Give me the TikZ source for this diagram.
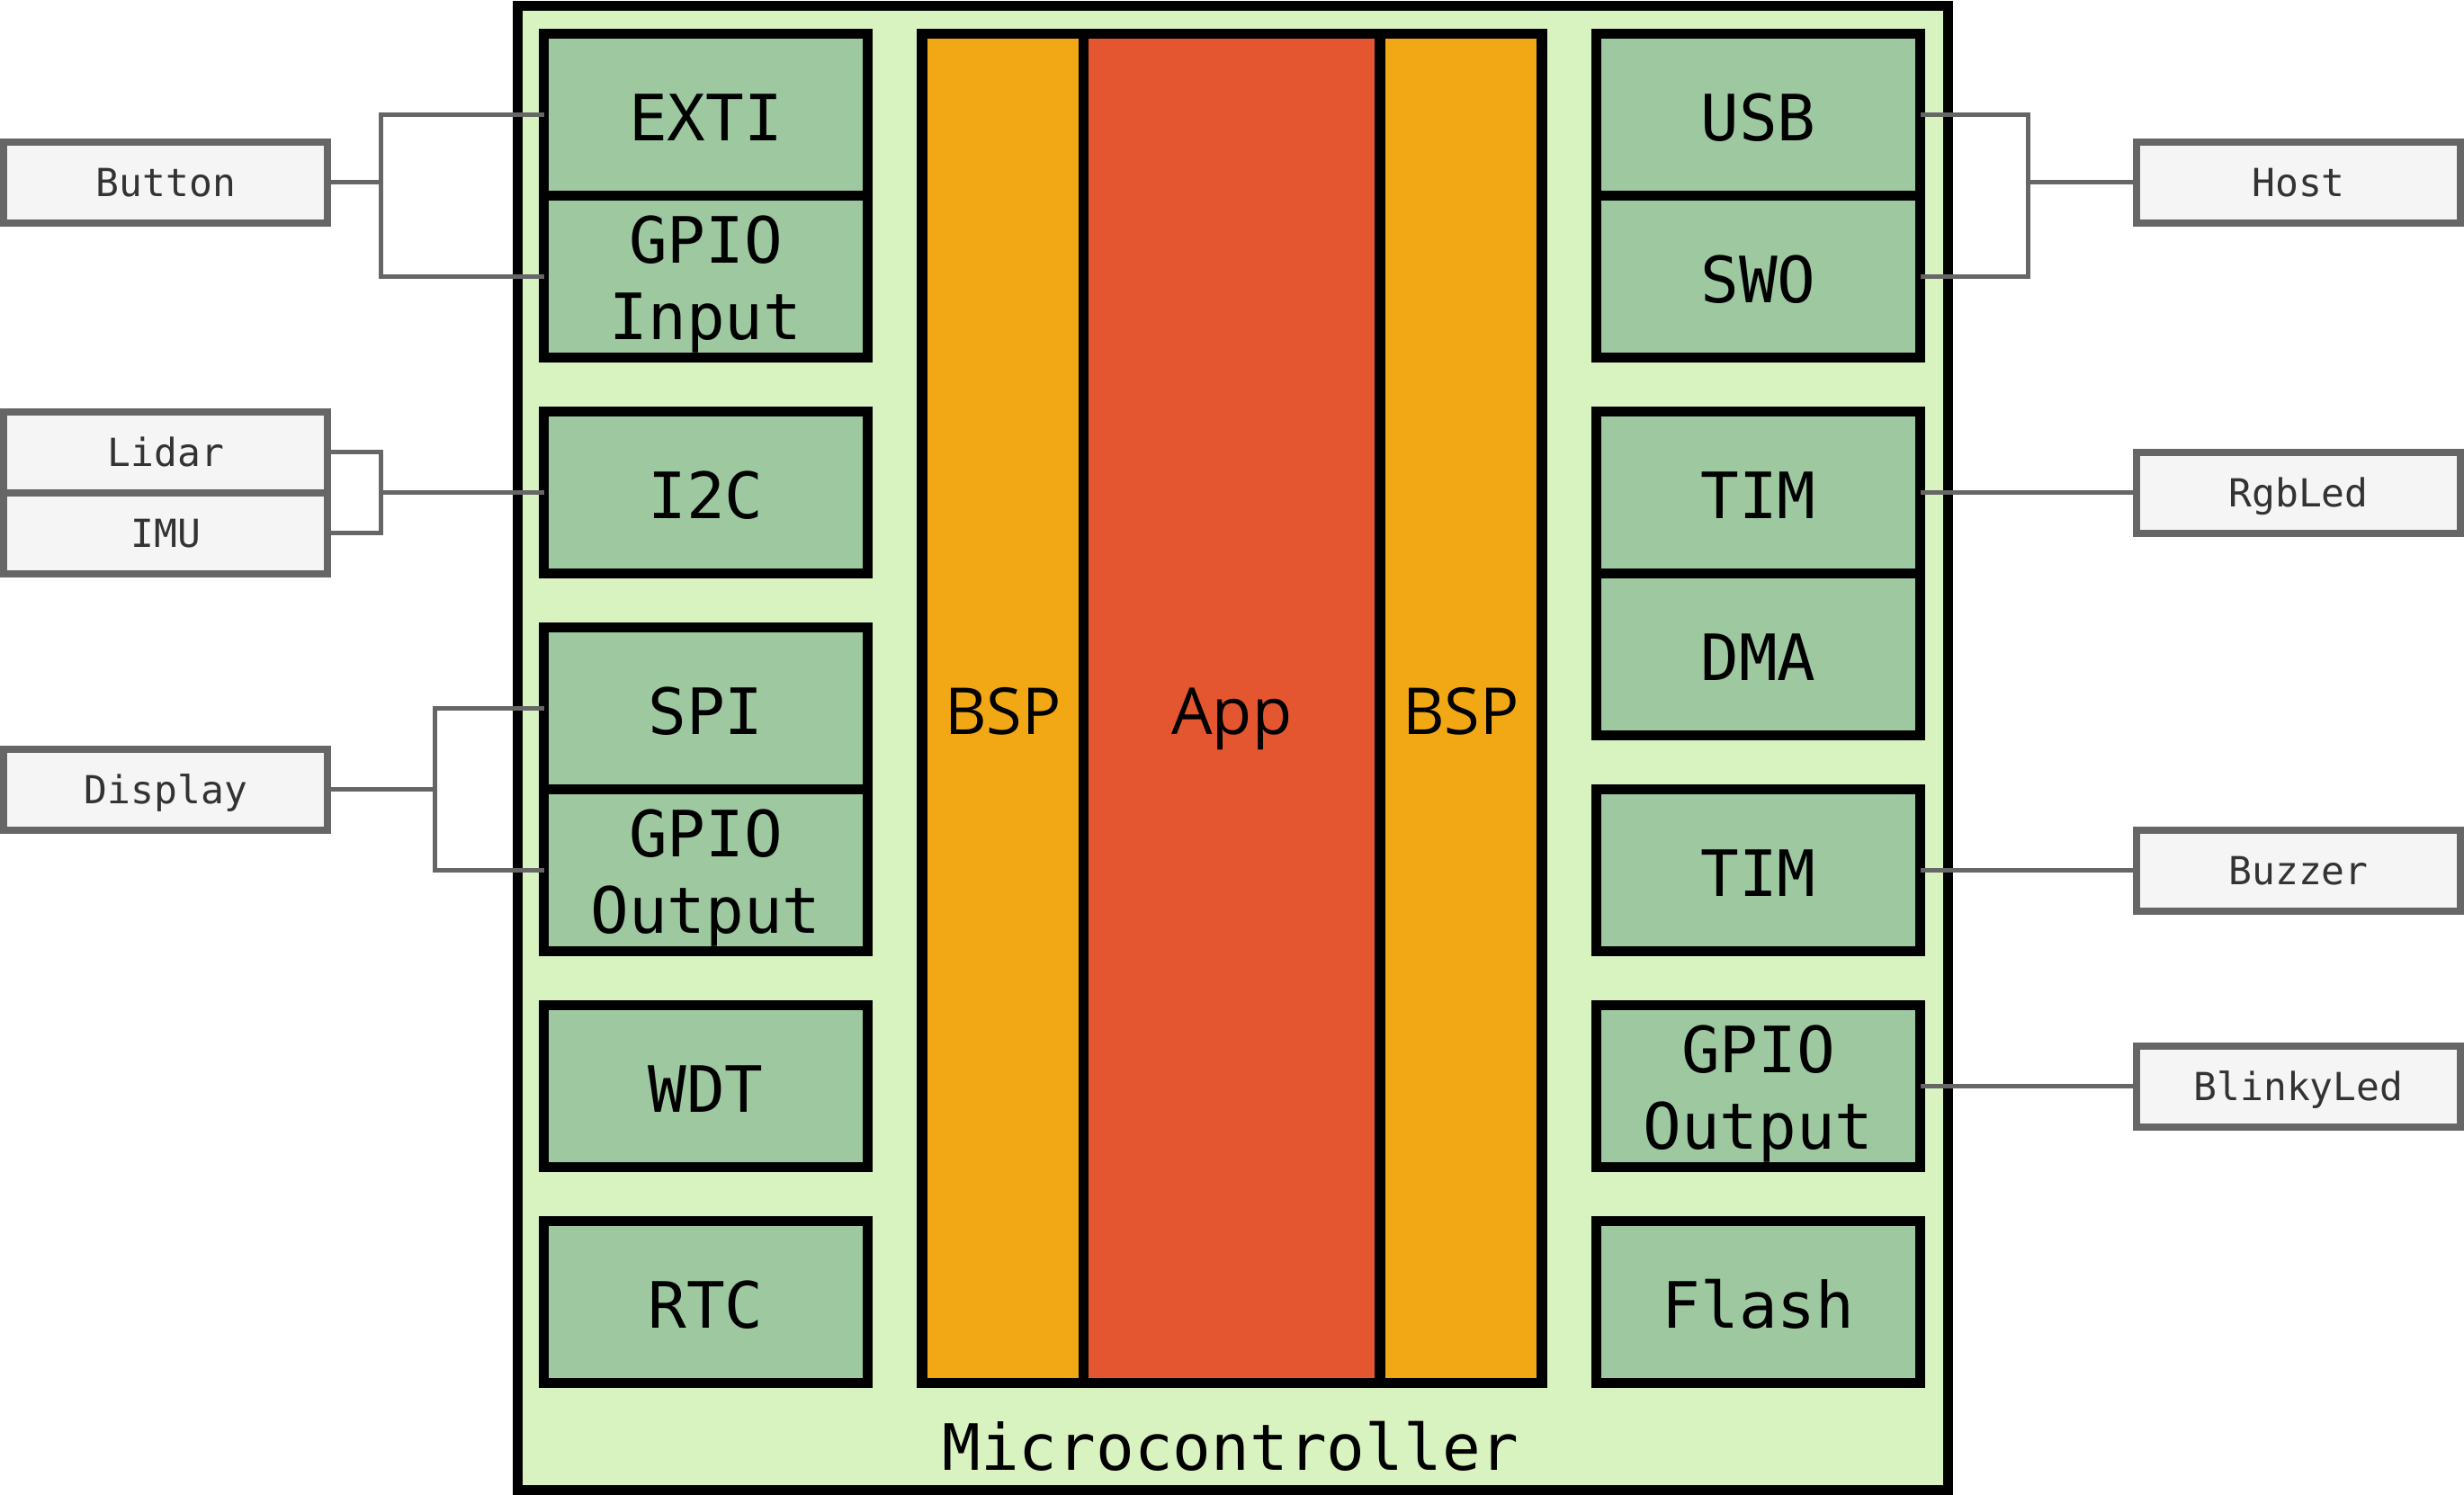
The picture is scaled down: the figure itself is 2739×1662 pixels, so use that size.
\documentclass[tikz,border=0pt]{standalone}
\usepackage{fontspec}
\newfontfamily\monofnt{DejaVu Sans Mono}
\newfontfamily\sansfnt{Open Sans}
\definecolor{mcfill}{HTML}{D8F2C0}
\definecolor{perfill}{HTML}{9DC8A0}
\definecolor{bspfill}{HTML}{F2A814}
\definecolor{appfill}{HTML}{E4562F}
\definecolor{extfill}{HTML}{F5F5F5}
\definecolor{extdraw}{HTML}{666666}
\definecolor{exttext}{HTML}{333333}
\tikzset{
  mcbox/.style={draw=black, line width=11pt, fill=mcfill, minimum width=1590pt, minimum height=1650pt, inner sep=0pt, outer sep=0pt},
  perbox/.style={draw=black, line width=11.5pt, fill=perfill, minimum width=360pt, minimum height=180pt, inner sep=0pt, outer sep=0pt, font=\monofnt\fontsize{71}{85}\selectfont, text height=57pt, text depth=0pt},
  perline/.style={anchor=base, inner sep=0pt, outer sep=0pt, font=\monofnt\fontsize{71}{85}\selectfont},
  layerbox/.style={draw=black, line width=11.5pt, minimum height=1500pt, inner sep=0pt, outer sep=0pt, font=\sansfnt\fontsize{72}{86}\selectfont, text height=57pt, text depth=0pt},
  extbox/.style={draw=extdraw, line width=8pt, fill=extfill, minimum width=360pt, minimum height=90pt, inner sep=0pt, outer sep=0pt, text=exttext, font=\monofnt\fontsize{43}{52}\selectfont, text height=31pt, text depth=0pt},
  wire/.style={draw=extdraw, line width=5pt},
}
\begin{document}
\begin{tikzpicture}[x=1pt, y=-1pt]
\useasboundingbox (0,0) rectangle (2739,1662);
\fill[white] (0,0) rectangle (2739,1662);

% microcontroller
\node[mcbox] (mcu) at (1370.5,831.75) {};
\node[perline] (mclabel) at (1368,1634) {Microcontroller};

% layers
\node[layerbox, fill=bspfill, minimum width=179.5pt] (bspl) at (1114.75,787.5) {BSP};
\node[layerbox, fill=appfill, minimum width=329.5pt] (app) at (1369.25,787.5) {App};
\node[layerbox, fill=bspfill, minimum width=180pt] (bspr) at (1624,787.5) {BSP};

% left peripherals
\node[perbox] (exti) at (784.5,127.5) {EXTI};
\node[perbox] (gpin) at (784.5,307.5) {};
\node[perline] (gpinA) at ([yshift=15pt]gpin.center) {GPIO};
\node[perline] (gpinB) at ([yshift=-70pt]gpin.center) {Input};
\node[perbox] (i2c) at (784.5,547.5) {I2C};
\node[perbox] (spi) at (784.5,787.5) {SPI};
\node[perbox] (gpout) at (784.5,967.5) {};
\node[perline] (gpoutA) at ([yshift=15pt]gpout.center) {GPIO};
\node[perline] (gpoutB) at ([yshift=-70pt]gpout.center) {Output};
\node[perbox] (wdt) at (784.5,1207.5) {WDT};
\node[perbox] (rtc) at (784.5,1447.5) {RTC};

% right peripherals
\node[perbox] (usb) at (1954.5,127.5) {USB};
\node[perbox] (swo) at (1954.5,307.5) {SWO};
\node[perbox] (tim) at (1954.5,547.5) {TIM};
\node[perbox] (dma) at (1954.5,727.5) {DMA};
\node[perbox] (timb) at (1954.5,967.5) {TIM};
\node[perbox] (gpoutr) at (1954.5,1207.5) {};
\node[perline] (gpoutrA) at ([yshift=15pt]gpoutr.center) {GPIO};
\node[perline] (gpoutrB) at ([yshift=-70pt]gpoutr.center) {Output};
\node[perbox] (flash) at (1954.5,1447.5) {Flash};

% external devices
\node[extbox] (button) at (184.3,202.5) {Button};
\node[extbox] (lidar) at (184.3,502.5) {Lidar};
\node[extbox] (imu) at (184.3,592.5) {IMU};
\node[extbox] (display) at (184.3,877.5) {Display};
\node[extbox] (host) at (2555,202.5) {Host};
\node[extbox] (rgbled) at (2555,547.5) {RgbLed};
\node[extbox] (buzzer) at (2555,967.5) {Buzzer};
\node[extbox] (blinky) at (2555,1207.5) {BlinkyLed};

% connectors
\coordinate (bkA) at (423.5,0);
\coordinate (bkB) at (423,0);
\coordinate (bkC) at (483,0);
\coordinate (bkD) at (2254,0);
\draw[wire] (exti.west) -- (exti.west -| bkA) |- (gpin.west);
\draw[wire] (button.east) -- (button.east -| bkA);
\draw[wire] (lidar.east) -- (lidar.east -| bkB) |- (imu.east);
\draw[wire] (i2c.west) -- (i2c.west -| bkB);
\draw[wire] (spi.west) -- (spi.west -| bkC) |- (gpout.west);
\draw[wire] (display.east) -- (display.east -| bkC);
\draw[wire] (usb.east) -- (usb.east -| bkD) |- (swo.east);
\draw[wire] (host.west) -- (host.west -| bkD);
\draw[wire] (tim.east) -- (rgbled.west);
\draw[wire] (timb.east) -- (buzzer.west);
\draw[wire] (gpoutr.east) -- (blinky.west);
\end{tikzpicture}
\end{document}
